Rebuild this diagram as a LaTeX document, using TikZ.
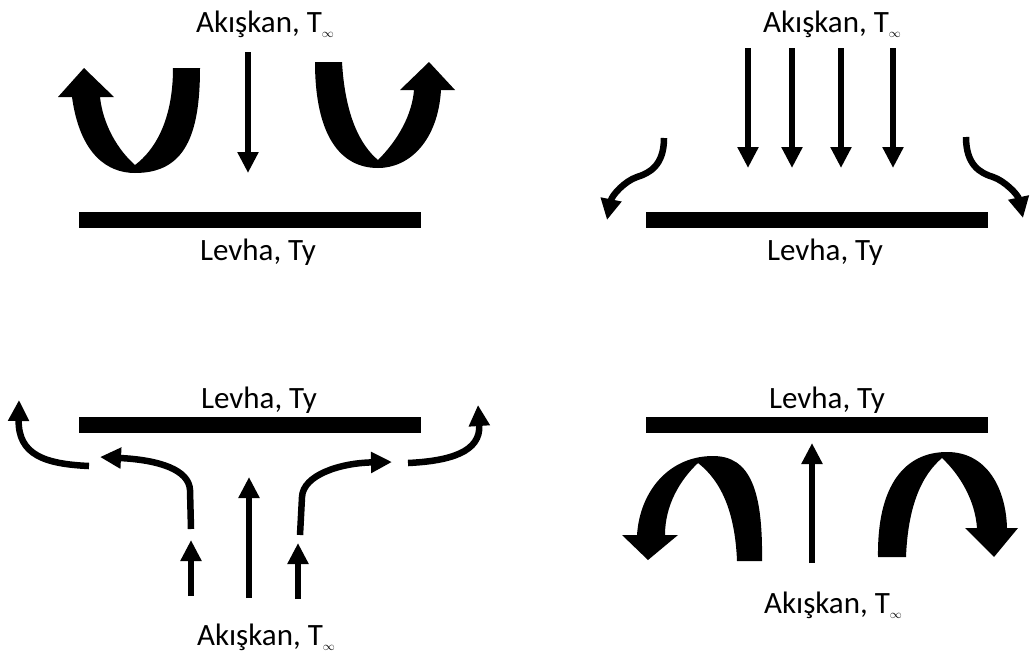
\documentclass[tikz,border=0pt]{standalone}
\usepackage{fontspec}
\setmainfont{Carlito}
\usetikzlibrary{arrows.meta}
\newcommand{\fluidtxt}{Akışkan, T\raisebox{-5pt}{\fontsize{12}{12}\selectfont$\infty$}}

\begin{document}
\begin{tikzpicture}[x=1pt,y=-1pt,
    plate/.style={fill,inner sep=0pt,minimum width=342pt,minimum height=16pt},
    flow/.style={line width=6.5pt,-{Triangle[length=21pt,width=20pt]}},
    lbl/.style={anchor=base,inner sep=0pt,font=\fontsize{31}{37}\selectfont}]
  \useasboundingbox (0,0) rectangle (1030,659);
  % top left: plate heated from above
  \node[lbl] (fluidA) at (265,32) {\fluidtxt};
  \node[plate] (plateA) at (250,220) {};
  \node[lbl] (levhaA) at (258,260) {Levha, Ty};
  \draw[flow] (248,52) -- (248,173);
  \fill (200,68) -- (173,68) .. controls (173,120) and (155,150) .. (135,165)
    .. controls (118,150) and (103,125) .. (100,97) -- (114,97) -- (84,68)
    -- (58,97) -- (72,97) .. controls (80,155) and (108,173) .. (135,173)
    .. controls (185,173) and (200,135) .. (200,68) -- cycle;
  \fill (315,62) -- (342,62) .. controls (345,115) and (360,145) .. (378,160)
    .. controls (398,140) and (412,115) .. (414,90) -- (400,90) -- (429,62)
    -- (455,90) -- (441,90) .. controls (438,140) and (410,168) .. (378,168)
    .. controls (340,168) and (315,135) .. (315,62) -- cycle;
  % top right: flow spreading over the plate
  \node[lbl] (fluidB) at (832,32) {\fluidtxt};
  \node[plate] (plateB) at (817,220) {};
  \node[lbl] (levhaB) at (825,260) {Levha, Ty};
  \foreach \x in {748,792,841,893}
    \draw[flow] (\x,48) -- (\x,168);
  \draw[flow] (664,138) .. controls (664,165) and (650,173) .. (637,177)
    .. controls (625,181) and (612,195) .. (607,220);
  \draw[flow] (966,137) .. controls (966,165) and (980,173) .. (993,177)
    .. controls (1005,181) and (1018,195) .. (1023,218);
  % bottom left: flow rising to the plate
  \node[lbl] (levhaC) at (259,408) {Levha, Ty};
  \node[plate] (plateC) at (250,425) {};
  \node[lbl] (fluidC) at (266,645) {\fluidtxt};
  \draw[flow] (249,598) -- (249,477);
  \draw[flow] (191,596) -- (191,540);
  \draw[flow] (298,599) -- (298,543);
  \draw[flow] (191,529) -- (190,490) .. controls (189,470) and (160,460) .. (100,457);
  \draw[flow] (300,535) -- (302,497) .. controls (303,475) and (340,463) .. (392,462);
  \draw[flow] (89,466) .. controls (45,464) and (18,455) .. (19,400);
  \draw[flow] (408,463) .. controls (450,461) and (481,452) .. (478,405);
  % bottom right: plate cooled from below
  \node[lbl] (levhaD) at (827,408) {Levha, Ty};
  \node[plate] (plateD) at (817,425) {};
  \node[lbl] (fluidD) at (833,613) {\fluidtxt};
  \draw[flow] (812,563) -- (812,443);
  \fill (737,561) -- (762,561) .. controls (763,490) and (750,456) .. (713,456)
    .. controls (670,456) and (640,490) .. (637,535) -- (622,535) -- (648,560)
    -- (678,535) -- (665,535) .. controls (665,505) and (680,480) .. (698,463)
    .. controls (720,480) and (735,510) .. (737,561) -- cycle;
  \fill (906,557) -- (878,557) .. controls (877,485) and (905,452) .. (947,452)
    .. controls (988,452) and (1006,490) .. (1007,528) -- (1018,528) -- (994,557)
    -- (965,528) -- (977,528) .. controls (975,500) and (960,475) .. (942,458)
    .. controls (922,475) and (908,505) .. (906,557) -- cycle;
\end{tikzpicture}
\end{document}
